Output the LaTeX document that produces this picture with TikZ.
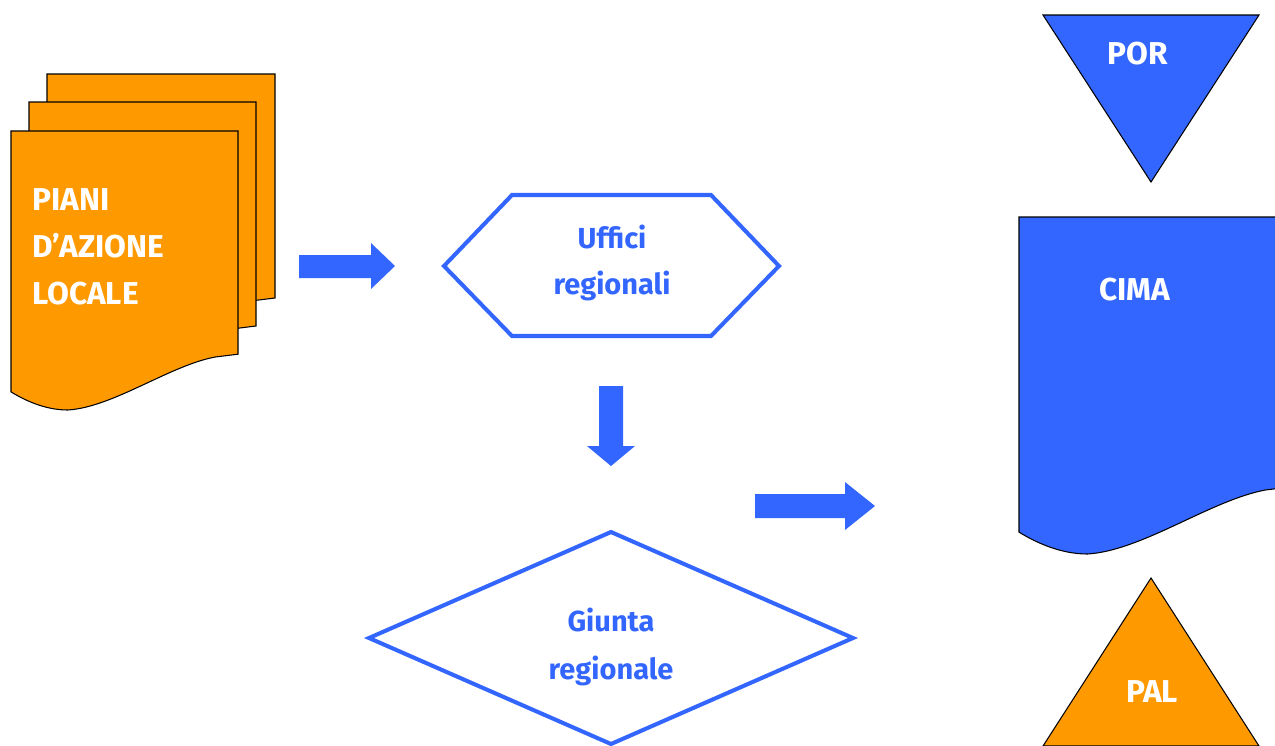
\documentclass[tikz,border=0pt]{standalone}
\usepackage{fontspec}
\setmainfont{Fira Sans}
\definecolor{planblue}{HTML}{3366FF}
\definecolor{planorange}{HTML}{FF9900}
\tikzset{
    docline/.style={draw=black, line width=0.6pt},
    outline/.style={draw=planblue, line width=2.3pt, line join=miter},
    blockarrow/.style={fill=planblue},
    bluelabel/.style={text=planblue, font=\bfseries\fontsize{16.5}{26.5}\selectfont, align=center, inner sep=0pt},
    whitelabel/.style={text=white, font=\bfseries\fontsize{18}{26.6}\selectfont, inner sep=0pt}
}
\newcommand{\docpage}[5]{%
    \begin{scope}[shift={(#1,#2)}, xscale=#3, yscale=#4]
        \draw[docline, fill=#5] (0,0) -- (1,0) -- (1,0.8) -- (0.9,0.81)
            .. controls (0.7,0.84) and (0.45,0.99) .. (0.25,1)
            .. controls (0.15,1) and (0.06,0.965) .. (0,0.935) -- cycle;
    \end{scope}}

\begin{document}
\begin{tikzpicture}[x=0.02cm, y=-0.02cm]
        \useasboundingbox (0,0) rectangle (1275,745);
        \clip (0,0) rectangle (1275,745);
        \docpage{47}{74}{228}{280}{planorange}
        \docpage{29}{102}{227}{280}{planorange}
        \docpage{11}{131}{227}{279}{planorange}
        \docpage{1019}{217}{274}{337}{planblue}
        \draw[docline, fill=planblue] (1043,15) -- (1259,15) -- (1151,182) -- cycle;
        \draw[docline, fill=planorange] (1151,578) -- (1259,746) -- (1043,746) -- cycle;
        \draw[outline] (444,266) -- (512,195) -- (711,195) -- (779,266) -- (711,336) -- (512,336) -- cycle;
        \draw[outline] (611,532) -- (853,638) -- (611,744) -- (369,638) -- cycle;
        \fill[blockarrow] (299,255) -- (371,255) -- (371,243) -- (395,266) -- (371,289) -- (371,278) -- (299,278) -- cycle;
        \fill[blockarrow] (599,386) -- (623,386) -- (623,446) -- (635,446) -- (611,466) -- (587,446) -- (599,446) -- cycle;
        \fill[blockarrow] (755,494) -- (845,494) -- (845,482) -- (875,506) -- (845,530) -- (845,518) -- (755,518) -- cycle;
        \node[whitelabel, align=left, anchor=west] (piani) at (32,247) {PIANI\\D’AZIONE\\LOCALE};
        \node[bluelabel] (uffici) at (612,263) {Uffici\\regionali};
        \node[bluelabel, font=\bfseries\fontsize{16.5}{27.8}\selectfont] (giunta) at (611,647) {Giunta\\regionale};
        \node[whitelabel] (cima) at (1135,290) {CIMA};
        \node[whitelabel] (por) at (1138,54) {POR};
        \node[whitelabel] (pal) at (1152,692) {PAL};
    \end{tikzpicture}
\end{document}
